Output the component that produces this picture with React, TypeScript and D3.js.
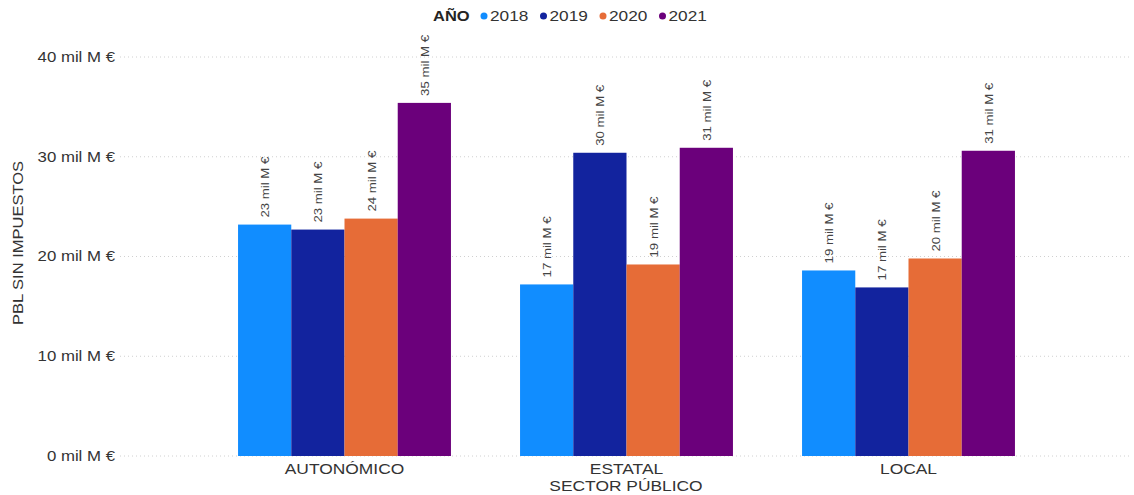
import React from "react";
import * as d3 from "d3";

const categories = ["AUTONÓMICO", "ESTATAL", "LOCAL"];
const years = ["2018", "2019", "2020", "2021"];
const v2018 = [23.2, 17.2, 18.6];
const v2019 = [22.7, 30.4, 16.9];
const v2020 = [23.8, 19.2, 19.8];
const v2021 = [35.4, 30.9, 30.6];
const seriesValues = [v2018, v2019, v2020, v2021];
const colors = ["#118DFF", "#12239E", "#E66C37", "#6B007B"];
const yTicks = [0, 10, 20, 30, 40];

const W = 1134;
const H = 495;
const FONT = "'Liberation Sans', Arial, sans-serif";
const SX = 1.2;

export default function App() {
  const y = d3.scaleLinear().domain([0, 40]).range([456, 57]);
  const x0 = d3.scaleBand().domain(categories).range([203.5, 1049.5]).paddingInner(0.245).paddingOuter(0.1225);
  const x1 = d3.scaleBand().domain(years).range([0, x0.bandwidth()]).padding(0);
  const fmt = (v: number) => `${Math.round(v)} mil M €`;

  return (
    <svg width={W} height={H} style={{ position: "absolute", left: 0, top: 0, background: "#fff" }}>
      {yTicks.map((t) => (
        <line key={"g" + t} x1={120} x2={1130} y1={y(t)} y2={y(t)} stroke="#d0d0d0" strokeDasharray="1,3" strokeWidth={1} />
      ))}
      {yTicks.map((t) => (
        <text key={"yt" + t} transform={`translate(115,${y(t)}) scale(${SX},1)`} dy="0.35em" textAnchor="end" fontFamily={FONT} fontSize={14} fill="#333">
          {`${t} mil M €`}
        </text>
      ))}
      <text transform={`translate(23,243) rotate(-90) scale(1.18,1)`} textAnchor="middle" fontFamily={FONT} fontSize={14} fill="#333">
        PBL SIN IMPUESTOS
      </text>
      {categories.map((c, ci) => (
        <g key={c} transform={`translate(${x0(c)},0)`}>
          {years.map((yr, si) => {
            const v = seriesValues[si][ci];
            const bx = x1(yr)!;
            const bw = x1.bandwidth();
            return (
              <g key={yr}>
                <rect x={bx} y={y(v)} width={bw} height={y(0) - y(v)} fill={colors[si]} />
                <text
                  transform={`translate(${bx + bw / 2 + 4.5},${y(v) - 7}) rotate(-90) scale(1.15,1)`}
                  textAnchor="start"
                  fontFamily={FONT}
                  fontSize={11.5}
                  fill="#444"
                >
                  {fmt(v)}
                </text>
              </g>
            );
          })}
        </g>
      ))}
      {categories.map((c) => (
        <text key={"xl" + c} transform={`translate(${x0(c)! + x0.bandwidth() / 2},474) scale(${SX},1)`} textAnchor="middle" fontFamily={FONT} fontSize={14.5} fill="#333">
          {c}
        </text>
      ))}
      <text transform={`translate(626,491) scale(${SX},1)`} textAnchor="middle" fontFamily={FONT} fontSize={14.5} fill="#333">
        SECTOR PÚBLICO
      </text>
      <text transform={`translate(433,21) scale(1.1,1)`} fontFamily={FONT} fontSize={15} fontWeight="bold" fill="#252423">AÑO</text>
      {years.map((yr, i) => {
        const lx = 484 + i * 59.5;
        return (
          <g key={"lg" + yr}>
            <circle cx={lx} cy={16} r={3.5} fill={colors[i]} />
            <text transform={`translate(${lx + 6},21) scale(1.15,1)`} fontFamily={FONT} fontSize={15} fill="#333">{yr}</text>
          </g>
        );
      })}
    </svg>
  );
}
